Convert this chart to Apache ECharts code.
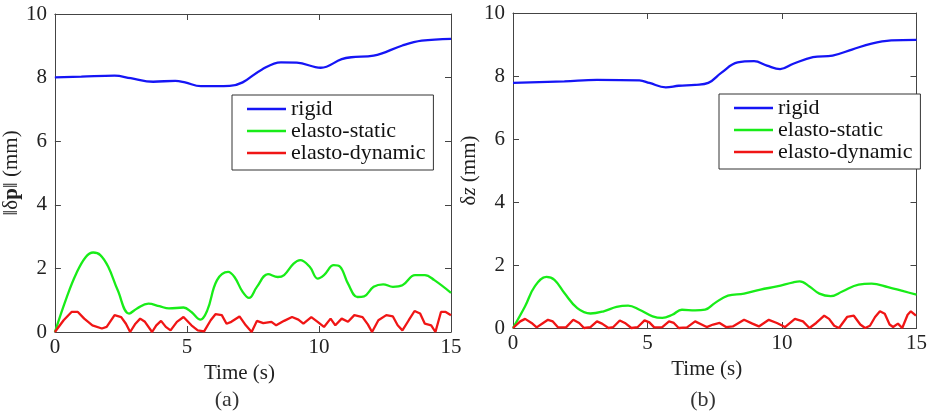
<!DOCTYPE html>
<html><head><meta charset="utf-8">
<script src="https://cdn.jsdelivr.net/npm/echarts@6/dist/echarts.min.js"></script>
<style>html,body{margin:0;padding:0;background:#fff}#c{width:930px;height:411px}</style>
</head><body><div id="c"></div>
<script>
const seriesNames = ['rigid', 'elasto-static', 'elasto-dynamic'];
const xTickInterval = 5, xMax = 15, yTickInterval = 2, yMax = 10;
const captions = ['(a)', '(b)'];
const xAxisTitle = 'Time (s)';

// (a) ||δp||
const tRigidA = [0,1.0,2.26,2.87,3.72,4.56,4.93,5.53,6.62,7.11,7.83,8.56,9.16,10.07,10.86,11.22,12.07,13.16,13.89,15];
const vRigidA = [8.01,8.03,8.06,7.98,7.87,7.90,7.85,7.73,7.74,7.85,8.25,8.48,8.47,8.31,8.58,8.64,8.69,9.01,9.16,9.22];
const tStaticA = [0,0.45,0.81,1.17,1.45,1.72,2.02,2.38,2.81,3.11,3.54,3.96,4.32,4.87,5.17,5.51,5.77,6.14,6.56,6.80,7.11,7.35,7.65,8.07,8.44,8.68,9.04,9.29,9.65,9.95,10.19,10.56,10.80,11.10,11.46,11.71,12.07,12.43,12.80,13.16,13.64,14.01,14.37,15];
const vStaticA = [0,1.10,1.84,2.36,2.50,2.42,2.05,1.31,0.58,0.74,0.89,0.81,0.74,0.77,0.63,0.39,0.68,1.63,1.89,1.73,1.26,1.07,1.42,1.82,1.73,1.79,2.15,2.26,2.05,1.68,1.79,2.10,2.05,1.52,1.10,1.12,1.42,1.50,1.42,1.47,1.79,1.79,1.63,1.23];
const tDynA = [0,0.33,0.63,0.87,1.11,1.42,1.78,1.96,2.26,2.51,2.69,2.85,3.05,3.23,3.41,3.68,3.84,4.02,4.20,4.38,4.62,4.87,5.17,5.41,5.65,5.90,6.08,6.32,6.50,6.68,6.99,7.23,7.45,7.65,7.89,8.20,8.38,8.68,8.98,9.22,9.41,9.71,9.95,10.19,10.44,10.62,10.86,11.10,11.34,11.65,11.85,12.01,12.25,12.55,12.80,12.98,13.16,13.40,13.62,13.83,14.01,14.25,14.41,14.62,14.80,15];
const vDynA = [0,0.37,0.63,0.63,0.42,0.21,0.11,0.16,0.53,0.47,0.26,0,0.26,0.42,0.32,0,0.21,0.35,0.16,0.05,0.32,0.47,0.21,0.05,0.02,0.37,0.56,0.53,0.26,0.32,0.49,0.21,0,0.35,0.28,0.32,0.21,0.35,0.47,0.39,0.26,0.47,0.32,0.16,0.42,0.21,0.42,0.32,0.53,0.47,0.24,0,0.37,0.53,0.49,0.21,0.05,0.37,0.66,0.58,0.26,0.21,0,0.63,0.63,0.53];

// (b) δz
const tRigidB = [0,1.91,3.12,4.70,5.07,5.68,6.16,6.77,7.26,7.74,8.35,8.96,9.44,9.93,10.42,11.15,11.88,12.60,13.33,14.06,15];
const vRigidB = [7.78,7.83,7.88,7.86,7.78,7.64,7.69,7.72,7.78,8.10,8.43,8.47,8.33,8.22,8.39,8.60,8.65,8.84,9.03,9.13,9.15];
const tStaticB = [0,0.45,0.81,1.24,1.54,1.91,2.39,2.88,3.37,3.85,4.28,4.70,5.19,5.55,5.92,6.28,6.77,7.14,7.50,7.99,8.59,9.20,9.81,10.42,10.66,11.02,11.39,11.81,12.24,12.85,13.33,13.94,14.55,15];
const vStaticB = [0,0.69,1.32,1.62,1.53,1.11,0.63,0.46,0.53,0.67,0.71,0.58,0.37,0.32,0.42,0.58,0.56,0.58,0.79,1.03,1.09,1.22,1.32,1.45,1.48,1.32,1.09,1.01,1.16,1.38,1.41,1.30,1.16,1.06];
const tDynB = [0,0.27,0.45,0.69,0.88,1.12,1.30,1.48,1.67,1.97,2.24,2.46,2.64,2.88,3.12,3.31,3.55,3.73,3.97,4.16,4.40,4.64,4.89,5.07,5.25,5.55,5.80,5.98,6.16,6.47,6.77,7.01,7.20,7.44,7.68,7.92,8.17,8.59,8.90,9.14,9.51,9.81,10.11,10.48,10.78,11.02,11.27,11.57,11.75,11.94,12.12,12.42,12.67,12.91,13.09,13.27,13.46,13.64,13.82,14.00,14.13,14.31,14.47,14.67,14.79,14.98];
const vDynB = [0,0.21,0.29,0.16,0.02,0.16,0.26,0.21,0.02,0.02,0.26,0.16,0,0.03,0.21,0.14,0,0.03,0.24,0.16,0,0.03,0.24,0.18,0.02,0.03,0.21,0.16,0,0.02,0.21,0.11,0.03,0.11,0.16,0.03,0.05,0.26,0.14,0.05,0.26,0.16,0.03,0.29,0.21,0,0.16,0.39,0.29,0.07,0,0.35,0.39,0.11,0,0.07,0.35,0.53,0.45,0.11,0.03,0.14,0,0.42,0.53,0.39];

const pair = (t, v) => t.map((x, i) => [x, v[i]]);
const FONT = 'Liberation Serif';
const colors = ['#1515f5', '#18ec18', '#f01515'];
const axisColor = '#444';
const tickRich = {s: {fontFamily: FONT, fontSize: 21, color: '#222'}};

const chart = echarts.init(document.getElementById('c'), null, {renderer: 'canvas'});

function xAxes(gi, namePad) {
  return [
    {gridIndex: gi, type: 'value', min: 0, max: xMax, interval: xTickInterval, position: 'bottom',
     axisLine: {onZero: false, lineStyle: {color: axisColor, width: 1}},
     axisTick: {inside: true, length: 6, lineStyle: {color: axisColor}},
     axisLabel: {margin: 5, formatter: '{s|{value}}', rich: tickRich, fontFamily: FONT, fontSize: 21, color: '#222'},
     splitLine: {show: false},
     name: xAxisTitle, nameLocation: 'middle', nameGap: 18,
     nameTextStyle: {fontFamily: FONT, fontSize: 21, color: '#222', padding: namePad}},
    {gridIndex: gi, type: 'value', min: 0, max: xMax, interval: xTickInterval, position: 'top',
     axisLine: {onZero: false, lineStyle: {color: axisColor, width: 1}},
     axisTick: {inside: true, length: 6, lineStyle: {color: axisColor}},
     axisLabel: {show: false}, splitLine: {show: false}}
  ];
}
function yAxes(gi, name, gap, rich) {
  return [
    {gridIndex: gi, type: 'value', min: 0, max: yMax, interval: yTickInterval, position: 'left',
     axisLine: {show: true, onZero: false, lineStyle: {color: axisColor, width: 1}},
     axisTick: {show: true, inside: true, length: 6, lineStyle: {color: axisColor}},
     axisLabel: {margin: 8, formatter: '{s|{value}}', rich: tickRich, fontFamily: FONT, fontSize: 21, color: '#222'},
     splitLine: {show: false},
     name: name, nameLocation: 'middle', nameGap: gap,
     nameTextStyle: {fontFamily: FONT, fontSize: 21, color: '#222', rich: rich}},
    {gridIndex: gi, type: 'value', min: 0, max: yMax, interval: yTickInterval, position: 'right',
     axisLine: {show: true, onZero: false, lineStyle: {color: axisColor, width: 1}},
     axisTick: {show: true, inside: true, length: 6, lineStyle: {color: axisColor}},
     axisLabel: {show: false}, splitLine: {show: false}}
  ];
}
function legend(left, top) {
  return {left: left, top: top, orient: 'vertical', padding: [3, 8, 6, 15], itemGap: 0,
    icon: 'rect', itemWidth: 39, itemHeight: 2.5, borderColor: '#333', borderWidth: 1, backgroundColor: '#fff',
    selectedMode: false, data: seriesNames,
    textStyle: {fontFamily: FONT, fontSize: 22, color: '#111', lineHeight: 20}};
}
function mk(name, data, xi, yi, ci, smooth) {
  return {name: name, type: 'line', xAxisIndex: xi, yAxisIndex: yi, data: data,
    symbol: 'none', smooth: smooth, clip: false, z: 3,
    lineStyle: {color: colors[ci], width: 2.3}, itemStyle: {color: colors[ci]}};
}

const option = {
  backgroundColor: '#fff',
  animation: false,
  textStyle: {fontFamily: FONT},
  grid: [
    {left: 38, top: 14, width: 413, height: 318},
    {left: 513, top: 13, width: 411, height: 315}
  ],
  legend: [legend(232, 95), legend(719, 94)],
  xAxis: [...xAxes(0, [0, 27, 0, 0]), ...xAxes(1, [0, 16, 0, 0])],
  yAxis: [
    ...yAxes(0, '‖δ{b|p}‖ (mm)', 30, {b: {fontFamily: FONT, fontSize: 21, fontWeight: 'bold', color: '#222'}}),
    ...yAxes(1, 'δ{i|z} (mm)', 27, {i: {fontFamily: FONT, fontSize: 21, fontStyle: 'italic', color: '#222'}})
  ],
  series: [
    mk(seriesNames[0], pair(tRigidA, vRigidA), 0, 0, 0, 0.4),
    mk(seriesNames[1], pair(tStaticA, vStaticA), 0, 0, 1, 0.4),
    mk(seriesNames[2], pair(tDynA, vDynA), 0, 0, 2, false),
    mk(seriesNames[0], pair(tRigidB, vRigidB), 2, 2, 0, 0.4),
    mk(seriesNames[1], pair(tStaticB, vStaticB), 2, 2, 1, 0.4),
    mk(seriesNames[2], pair(tDynB, vDynB), 2, 2, 2, false)
  ],
  graphic: [
    {type: 'text', x: 227, y: 400, style: {text: captions[0], textAlign: 'center', textVerticalAlign: 'middle', font: '22px "Liberation Serif"', fill: '#333'}},
    {type: 'text', x: 703, y: 400, style: {text: captions[1], textAlign: 'center', textVerticalAlign: 'middle', font: '22px "Liberation Serif"', fill: '#333'}}
  ]
};
chart.setOption(option);
</script>
</body></html>
